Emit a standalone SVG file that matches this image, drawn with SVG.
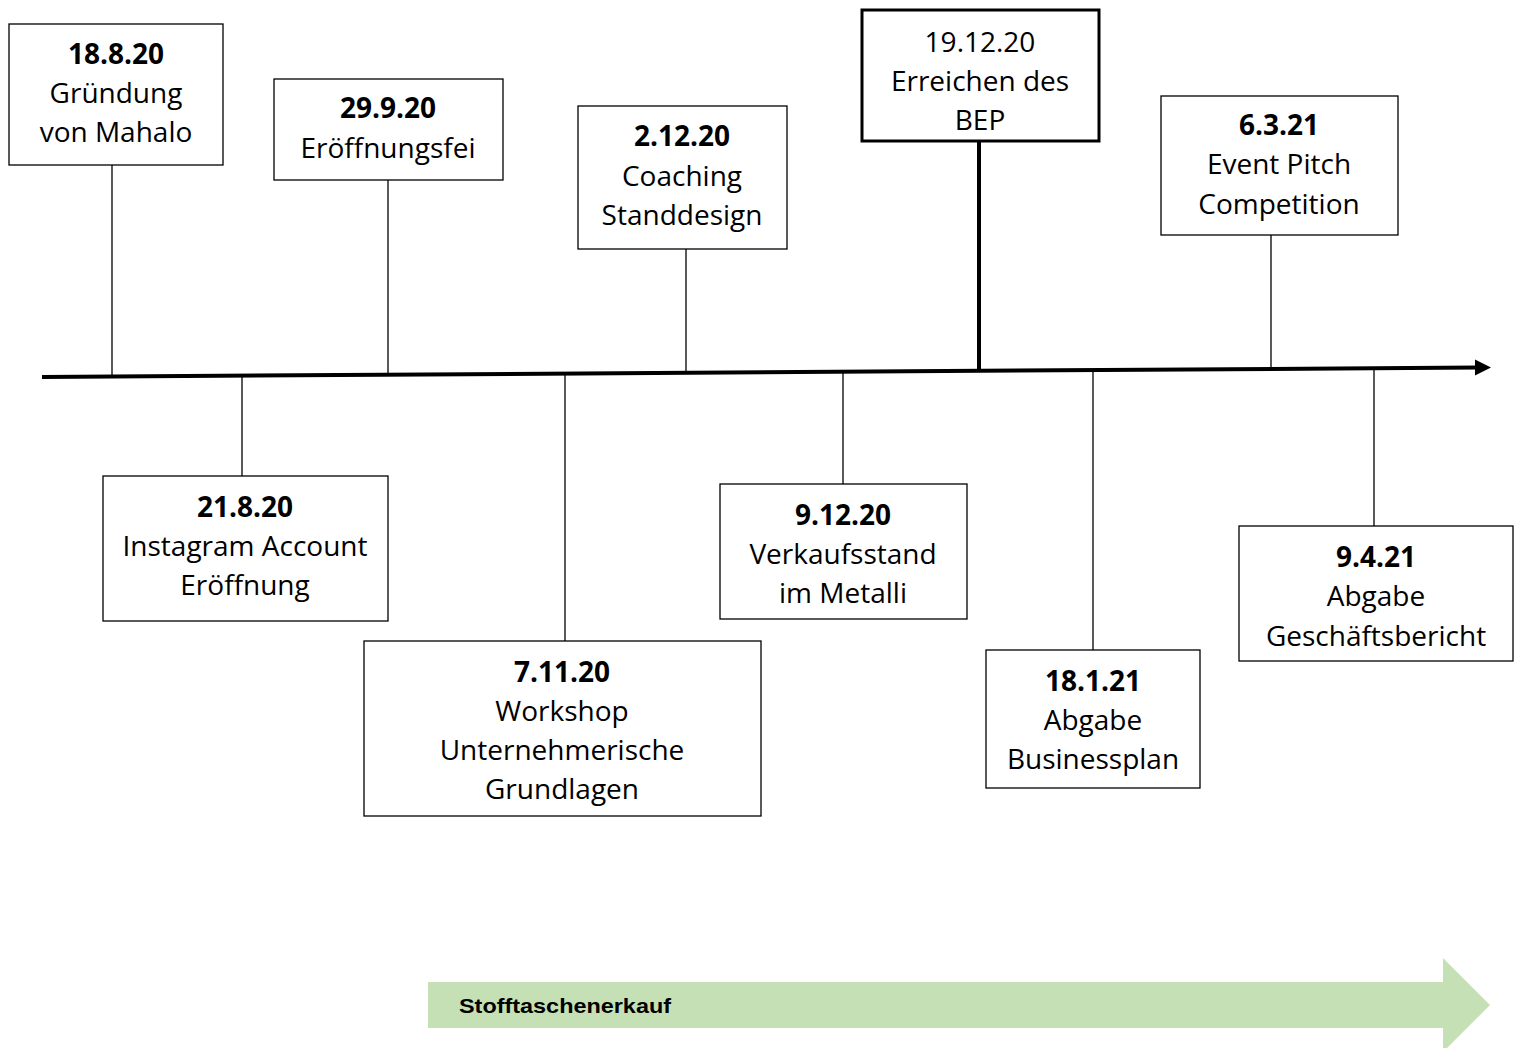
<svg xmlns="http://www.w3.org/2000/svg" width="1522" height="1048" viewBox="0 0 1522 1048">
<defs>
<style>
.box{fill:#fff;stroke:#000;stroke-width:1.3}
.thick{fill:#fff;stroke:#000;stroke-width:3}
.t{font-family:"Open Sans","Liberation Sans",sans-serif;font-size:28px;fill:#000;text-anchor:middle}
.b{font-weight:bold}
.c{stroke:#000;stroke-width:1.3;fill:none}
</style>
</defs>
<rect width="1522" height="1048" fill="#fff"/>
<g id="connectors">
<line class="c" x1="112" y1="165" x2="112" y2="376"/>
<line class="c" x1="388" y1="180" x2="388" y2="373"/>
<line class="c" x1="686" y1="249" x2="686" y2="371"/>
<line x1="979" y1="141" x2="979" y2="370" stroke="#000" stroke-width="4"/>
<line class="c" x1="1271" y1="235" x2="1271" y2="368"/>
<line class="c" x1="242" y1="376" x2="242" y2="476"/>
<line class="c" x1="565" y1="374" x2="565" y2="641"/>
<line class="c" x1="843" y1="372" x2="843" y2="484"/>
<line class="c" x1="1093" y1="369" x2="1093" y2="650"/>
<line class="c" x1="1374" y1="370" x2="1374" y2="526"/>
<line id="timeline" x1="42" y1="377" x2="1478" y2="367.6" stroke="#000" stroke-width="4"/>
<polygon points="1475,359.5 1491,367.5 1475,375.5" fill="#000"/>
</g>
<g id="n1"><rect class="box" x="9" y="24" width="214" height="141"/>
<text class="t b" x="116" y="64">18.8.20</text><text class="t" x="116" y="103">Gründung</text><text class="t" x="116" y="142">von Mahalo</text></g>
<g id="n2"><rect class="box" x="274" y="79" width="229" height="101"/>
<text class="t b" x="388" y="118">29.9.20</text><text class="t" x="388" y="158">Eröffnungsfei</text></g>
<g id="n3"><rect class="box" x="578" y="106" width="209" height="143"/>
<text class="t b" x="682" y="146">2.12.20</text><text class="t" x="682" y="186">Coaching</text><text class="t" x="682" y="225">Standdesign</text></g>
<g id="n4"><rect class="thick" x="862" y="10" width="237" height="131"/>
<text class="t" x="980" y="52">19.12.20</text><text class="t" x="980" y="91">Erreichen des</text><text class="t" x="980" y="130">BEP</text></g>
<g id="n5"><rect class="box" x="1161" y="96" width="237" height="139"/>
<text class="t b" x="1279" y="135">6.3.21</text><text class="t" x="1279" y="174">Event Pitch</text><text class="t" x="1279" y="214">Competition</text></g>
<g id="n6"><rect class="box" x="103" y="476" width="285" height="145"/>
<text class="t b" x="245" y="517">21.8.20</text><text class="t" x="245" y="556">Instagram Account</text><text class="t" x="245" y="595">Eröffnung</text></g>
<g id="n7"><rect class="box" x="364" y="641" width="397" height="175"/>
<text class="t b" x="562" y="682">7.11.20</text><text class="t" x="562" y="721">Workshop</text><text class="t" x="562" y="760">Unternehmerische</text><text class="t" x="562" y="799">Grundlagen</text></g>
<g id="n8"><rect class="box" x="720" y="484" width="247" height="135"/>
<text class="t b" x="843" y="525">9.12.20</text><text class="t" x="843" y="564">Verkaufsstand</text><text class="t" x="843" y="603">im Metalli</text></g>
<g id="n9"><rect class="box" x="986" y="650" width="214" height="138"/>
<text class="t b" x="1093" y="691">18.1.21</text><text class="t" x="1093" y="730">Abgabe</text><text class="t" x="1093" y="769">Businessplan</text></g>
<g id="n10"><rect class="box" x="1239" y="526" width="274" height="135"/>
<text class="t b" x="1376" y="567">9.4.21</text><text class="t" x="1376" y="606">Abgabe</text><text class="t" x="1376" y="646">Geschäftsbericht</text></g>
<g id="phase">
<path d="M428,982 L1443,982 L1443,958 L1490,1005 L1443,1052 L1443,1028 L428,1028 z" fill="#c5e0b4"/>
<text x="459" y="1013" font-family="'Liberation Sans',sans-serif" font-size="21" font-weight="bold" fill="#000" textLength="212" lengthAdjust="spacingAndGlyphs">Stofftaschenerkauf</text>
</g>
</svg>
